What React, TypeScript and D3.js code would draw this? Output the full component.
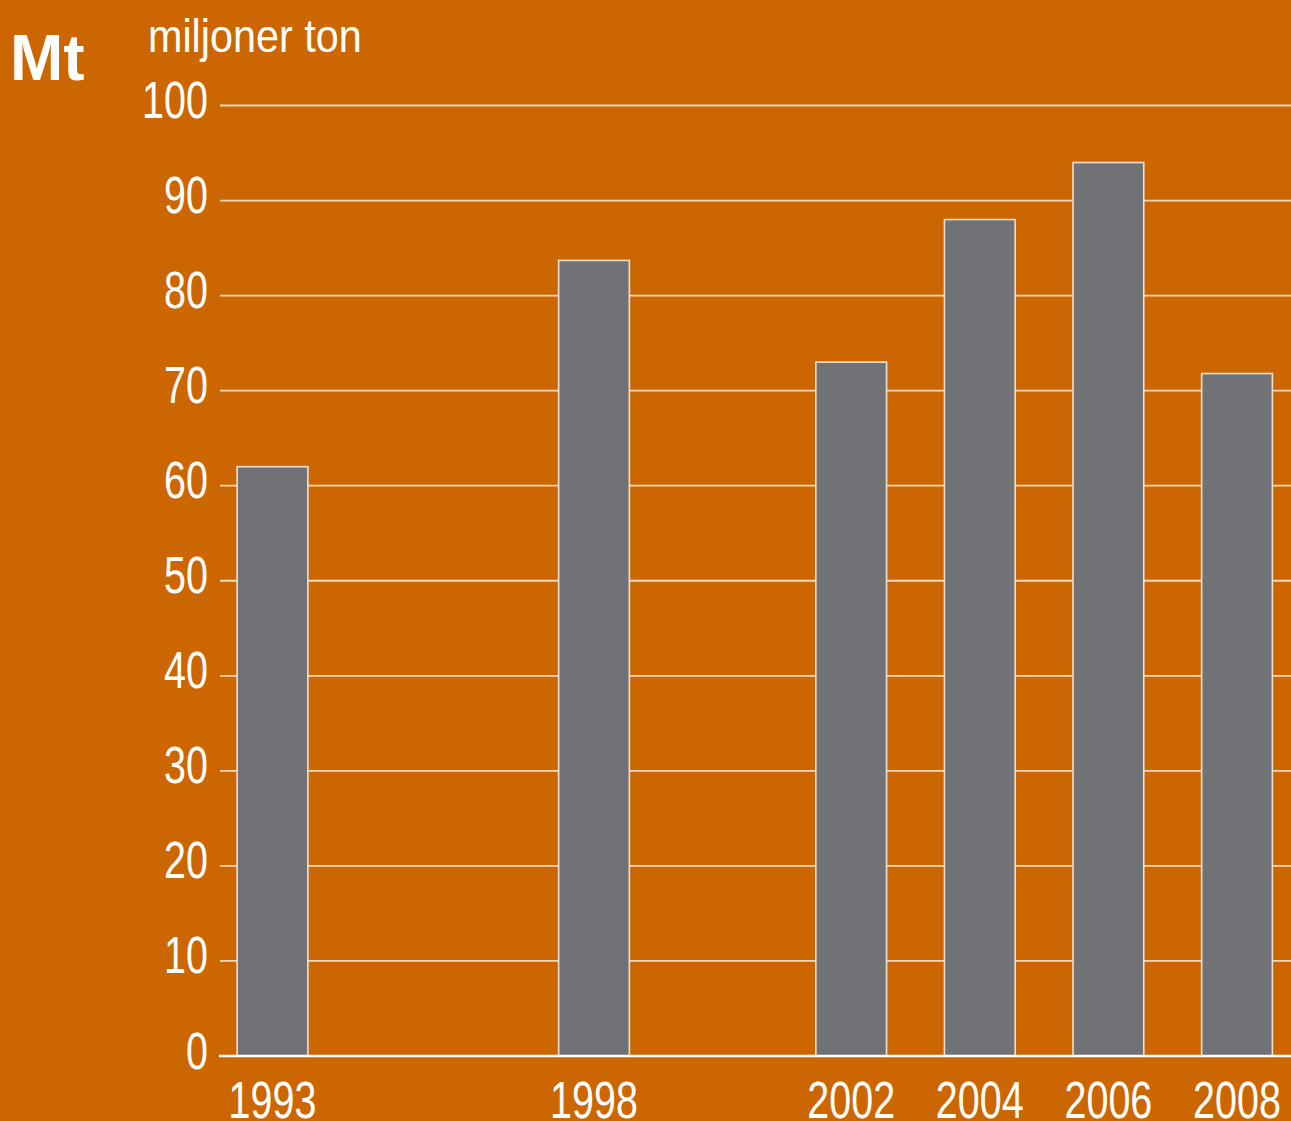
import React from "react";
import * as d3 from "d3";

const years = [1993, 1998, 2002, 2004, 2006, 2008];
const values = [62, 83.7, 73, 88, 94, 71.8];
const yTicks = [0, 10, 20, 30, 40, 50, 60, 70, 80, 90, 100];
const unitLabel = "miljoner ton";
const titleLabel = "Mt";

const W = 1291;
const H = 1121;
const BG = "#CC6600";
const BAR = "#717275";
const GRID = "#F6D9BC";

export default function App() {
  const x = d3.scaleLinear().domain([1993, 2008]).range([272.5, 1237]);
  const y = d3.scaleLinear().domain([0, 100]).range([1056, 105.5]);
  const bw = (x(1994) - x(1993)) * 1.1;
  const gridX0 = 220;
  const font = "'Liberation Sans', Arial, sans-serif";

  return (
    <div style={{ position: "fixed", left: 0, top: 0 }}>
      <svg width={W} height={H} style={{ display: "block" }}>
        <rect x={0} y={0} width={W} height={H} fill={BG} />
        {yTicks.filter((t) => t > 0).map((t) => (
          <line key={"g" + t} x1={gridX0} x2={W} y1={y(t)} y2={y(t)} stroke={GRID} strokeWidth={1.8} />
        ))}
        {years.map((yr, i) => (
          <rect
            key={yr}
            x={x(yr) - bw / 2}
            y={y(values[i])}
            width={bw}
            height={y(0) - y(values[i])}
            fill={BAR}
            stroke="#EDE0D4"
            strokeWidth={1.6}
          />
        ))}
        <line x1={219} x2={W} y1={y(0)} y2={y(0)} stroke="#FFFFFF" strokeWidth={2.6} />
        {yTicks.map((t) => (
          <text
            key={"t" + t}
            transform={`translate(208, ${y(t) + 12.5}) scale(0.76, 1)`}
            textAnchor="end"
            fill="#FFFFFF"
            fontFamily={font}
            fontSize={52}
          >
            {t}
          </text>
        ))}
        {years.map((yr) => (
          <text
            key={"x" + yr}
            transform={`translate(${x(yr)}, 1118) scale(0.76, 1)`}
            textAnchor="middle"
            fill="#FFFFFF"
            fontFamily={font}
            fontSize={52}
          >
            {yr}
          </text>
        ))}
        <text
          transform="translate(148, 52) scale(0.88, 1)"
          fill="#FFFFFF"
          fontFamily={font}
          fontSize={47}
        >
          {unitLabel}
        </text>
        <text x={10} y={80} fill="#FFFFFF" fontFamily={font} fontWeight="bold" fontSize={64}>
          {titleLabel}
        </text>
      </svg>
    </div>
  );
}
